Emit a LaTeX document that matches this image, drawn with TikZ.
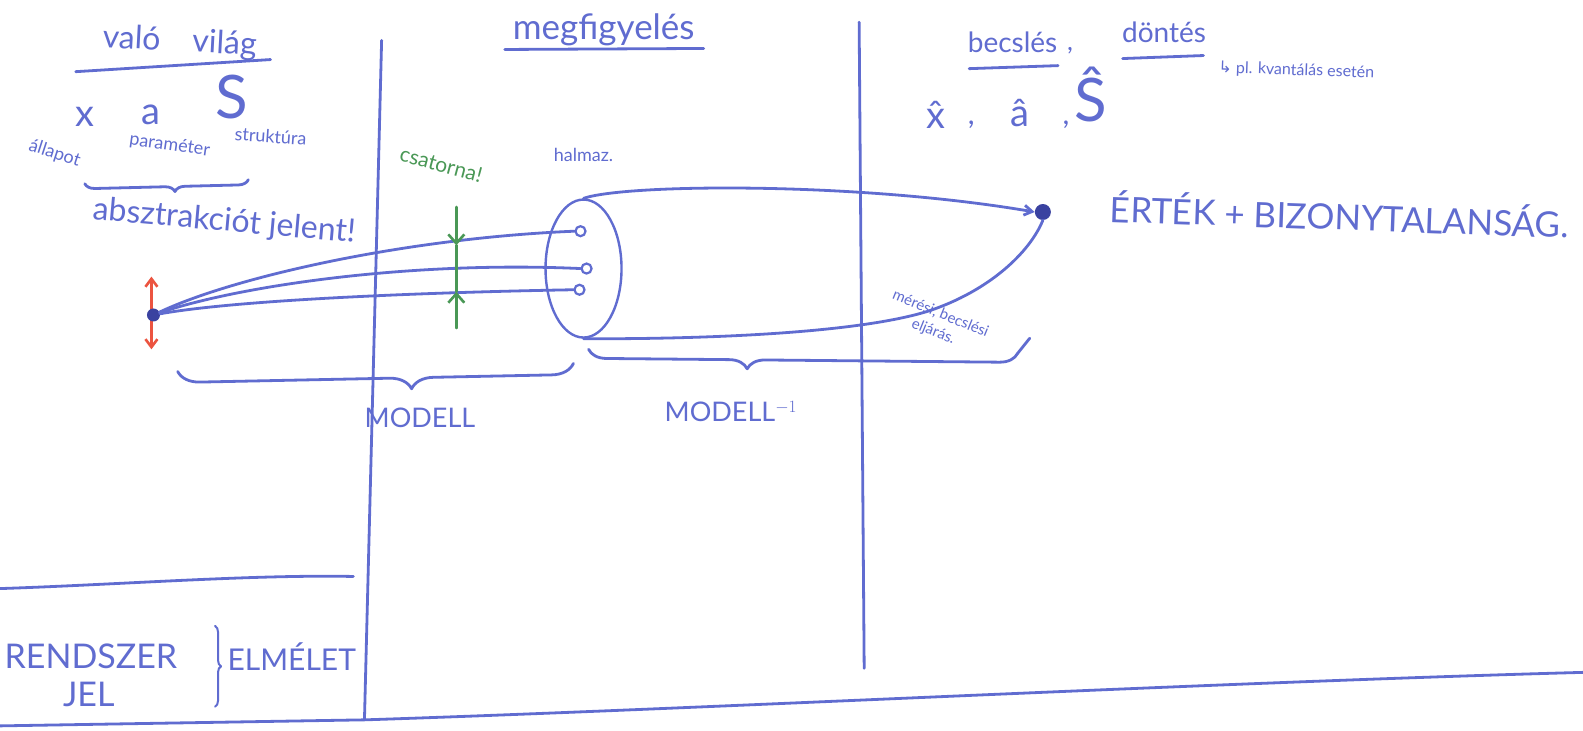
\documentclass[tikz,border=0pt]{standalone}
\usepackage{fontspec}
\setmainfont{Lato}
\newfontfamily\dejavu{DejaVu Sans}
\usetikzlibrary{decorations.pathreplacing,arrows.meta,shapes.geometric}
\definecolor{ink}{RGB}{96,108,208}
\definecolor{inkdark}{RGB}{58,66,160}
\definecolor{redink}{RGB}{236,84,64}
\definecolor{greenink}{RGB}{74,152,86}
\newcommand\fsz[1]{\fontsize{#1}{#1}\selectfont}
\tikzset{
  pen/.style={draw=ink, line width=2.8pt, line cap=round, line join=round},
  thinpen/.style={draw=ink, line width=2pt, line cap=round, line join=round},
  redpen/.style={draw=redink, line width=2.6pt, line cap=round},
  greenpen/.style={draw=greenink, line width=2.6pt, line cap=round},
  txt/.style={text=ink, inner sep=0pt, anchor=center},
  gtxt/.style={text=greenink, inner sep=0pt, anchor=center},
  ring/.style={draw=ink, line width=2.2pt, circle, minimum size=10pt, inner sep=0pt, fill=white},
  barb/.style={-{Straight Barb[length=9pt,width=16pt]}},
}
\begin{document}
\begin{tikzpicture}[x=1.0096pt,y=-1.0096pt]
\useasboundingbox[fill=white] (0,0) rectangle (1568,724);

% frame lines
\coordinate (v1t) at (378,40);  \coordinate (v1b) at (361,713);
\coordinate (v2t) at (851,22);  \coordinate (v2b) at (856,662);
\coordinate (h1l) at (0,583);   \coordinate (h1r) at (350,571);
\coordinate (h2l) at (0,719);   \coordinate (h2m) at (362,713); \coordinate (h2r) at (1568,666);
\draw[pen] (v1t) -- (v1b);
\draw[pen] (v2t) -- (v2b);
\draw[pen] (h1l) .. controls (120,579) and (250,569) .. (h1r);
\draw[pen] (h2l) -- (h2m) .. controls (700,702) and (1200,676) .. (h2r);

% column titles
\node[txt,rotate=-3] (tvv) at (178,42) {\fsz{32}való\quad világ};
\coordinate (uvl) at (75,71); \coordinate (uvr) at (268,59);
\draw[pen] (uvl) -- (uvr);
\node[txt] (tmeg) at (598,30) {\fsz{35}megfigyelés};
\coordinate (uml) at (500,49); \coordinate (umr) at (697,48);
\draw[pen] (uml) -- (umr);
\node[txt] (tbec) at (1003,42) {\fsz{28}becslés};
\coordinate (ubl) at (960,68); \coordinate (ubr) at (1048,65);
\draw[pen] (ubl) -- (ubr);
\node[txt] (tcom) at (1060,50) {\fsz{26},};
\node[txt] (tdon) at (1153,32) {\fsz{28}döntés};
\coordinate (udl) at (1112,58); \coordinate (udr) at (1192,55);
\draw[pen] (udl) -- (udr);
\node[txt,rotate=-2] (tpl) at (1284,70) {\fsz{16}{\dejavu ↳} pl. kvantálás esetén};

% real world quantities
\node[txt] (tx) at (84,116) {\fsz{38}x};
\node[txt] (ta) at (150,114) {\fsz{38}a};
\node[txt] (tS) at (230,96) {\fsz{60}S};
\node[txt,rotate=-18] (tall) at (54,152) {\fsz{18}állapot};
\node[txt,rotate=-8] (tpar) at (168,144) {\fsz{18}paraméter};
\node[txt,rotate=-4] (tstr) at (268,135) {\fsz{18}struktúra};
\coordinate (b1l) at (84,182); \coordinate (b1r) at (246,178);
\draw[pen, decorate, decoration={brace, mirror, amplitude=10pt, aspect=0.55}] (b1l) -- (b1r);
\node[txt,rotate=-5] (tabs) at (222,220) {\fsz{32}absztrakciót jelent!};

% estimates
\node[txt] (txh) at (927,114) {\fsz{38}\^x};
\node[txt] (tc1) at (962,124) {\fsz{30},};
\node[txt] (tah) at (1010,112) {\fsz{38}â};
\node[txt] (tc2) at (1056,124) {\fsz{30},};
\node[txt] (tSh) at (1080,94) {\fsz{60}\^S};

% source point
\draw[redpen, {Straight Barb[length=8pt,width=12pt]}-{Straight Barb[length=8pt,width=12pt]}] (150,274) -- (150,346);
\node[circle, fill=inkdark, minimum size=13pt, inner sep=0pt] (src) at (152,312) {};

% set of observations
\node[draw=ink, line width=2.4pt, ellipse, minimum width=76pt, minimum height=138pt, inner sep=0pt] (set) at (578,266) {};
\node[ring] (c1) at (575,229) {};
\node[ring] (c2) at (581,266) {};
\node[ring] (c3) at (574,287) {};
\node[txt] (thal) at (578,153) {\fsz{18}halmaz.};

\draw[pen] (src) .. controls (230,275) and (400,236) .. (c1.west);
\draw[pen] (src) .. controls (230,285) and (400,258) .. (c2.west);
\draw[pen] (src) .. controls (230,298) and (400,290) .. (c3.west);

% channel
\coordinate (gtop) at (452,205); \coordinate (gm1) at (452,243);
\coordinate (gm2) at (452,289);  \coordinate (gbot) at (452,325);
\draw[greenpen] (gm1) -- (gm2);
\draw[greenpen, barb] (gtop) -- (gm1);
\draw[greenpen, barb] (gbot) -- (gm2);
\node[gtxt,rotate=-15] (tcsa) at (437,163) {\fsz{21}csatorna!};

% estimate point
\node[circle, fill=inkdark, minimum size=16pt, inner sep=0pt] (tgt) at (1033,210) {};
\draw[pen, -{Straight Barb[length=8pt,width=10pt]}] (set.north) .. controls (620,182) and (850,180) .. (tgt.west);
\coordinate (bm) at (920,308);
\draw[pen] (set.south) .. controls (700,336) and (850,330) .. (bm) .. controls (980,288) and (1020,250) .. (tgt.south);
\node[txt,rotate=-22,align=center] (tmer) at (928,320) {\fsz{15}mérési, becslési\\[5pt]\fsz{15}eljárás.};
\node[txt,rotate=-2] (tert) at (1327,212) {\fsz{35}ÉRTÉK + BIZONYTALANSÁG.};

% model braces
\coordinate (b2l) at (176,368); \coordinate (b2r) at (568,360);
\draw[pen, decorate, decoration={brace, mirror, amplitude=22pt, aspect=0.59}] (b2l) -- (b2r);
\coordinate (b3l) at (583,346); \coordinate (b3r) at (1008,350); \coordinate (b3t) at (1020,335);
\draw[pen, decorate, decoration={brace, mirror, amplitude=18pt, aspect=0.37}] (b3l) -- (b3r);
\draw[pen] (b3r) -- (b3t);
\node[txt] (tmod) at (416,414) {\fsz{27}MODELL};
\node[txt] (tmodi) at (724,408) {\fsz{27}MODELL$^{-1}$};

% bottom-left box
\node[txt] (tren) at (90,650) {\fsz{34}RENDSZER};
\node[txt] (tjel) at (88,688) {\fsz{34}JEL};
\coordinate (b4t) at (213,620); \coordinate (b4b) at (213,700);
\draw[thinpen, decorate, decoration={brace, amplitude=6pt}] (b4t) -- (b4b);
\node[txt] (telm) at (289,650) {\fsz{30}ELMÉLET};
\end{tikzpicture}
\end{document}
